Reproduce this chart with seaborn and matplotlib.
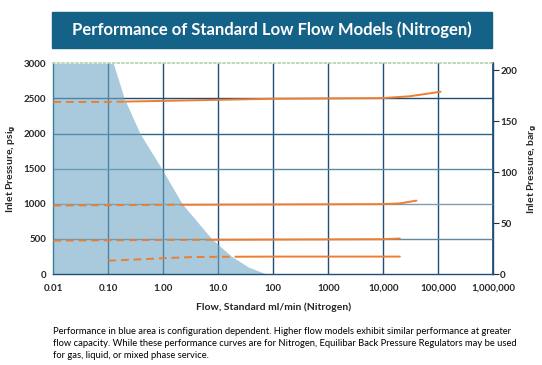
import numpy as np
import pandas as pd
import matplotlib
matplotlib.use("Agg")
import matplotlib.pyplot as plt
from matplotlib.patches import Rectangle
import seaborn as sns

# ---- data ----
# boundary of the blue (configuration dependent) area
edge_psi = [3000, 2500, 2000, 1500, 1000, 500, 250, 100, 0]
edge_flow = [0.123, 0.195, 0.377, 0.935, 2.2, 7.6, 17.5, 35, 75]

# performance curves (flow in ml/min, inlet pressure in psig)
curve_2500_flow = [0.01, 0.1, 1, 10, 100, 1000, 10000, 30000, 110000]
curve_2500_psi = [2450, 2450, 2465, 2480, 2495, 2500, 2505, 2530, 2595]
curve_1000_flow = [0.01, 1, 100, 10000, 20000, 40000]
curve_1000_psi = [975, 985, 990, 995, 1005, 1045]
curve_500_flow = [0.01, 1, 100, 10000, 20000]
curve_500_psi = [475, 485, 490, 495, 505]
curve_200_flow = [0.1, 0.3, 1, 3, 10, 100, 20000]
curve_200_psi = [190, 205, 225, 240, 245, 248, 248]

x_ticks = [0.01, 0.1, 1, 10, 100, 1000, 1e4, 1e5, 1e6]
x_labels = ["0.01", "0.10", "1.00", "10.0", "100", "1000",
            "10,000", "100,000", "1,000,000"]
y_ticks = [0, 500, 1000, 1500, 2000, 2500, 3000]
bar_ticks = [0, 50, 100, 150, 200]

PSI_PER_BAR = 14.5038

sns.set_theme(style="white")
plt.rcParams["font.family"] = ["Lato", "DejaVu Sans"]

fig = plt.figure(figsize=(5.42, 3.65), dpi=100)
ax = fig.add_axes([0.0984, 0.2493, 0.8117, 0.5773])
ax.set_xscale("log")
ax.set_xlim(0.01, 1e6)
ax.set_ylim(0, 3000)

# grid
for x in x_ticks[1:-1]:
    ax.axvline(x, color="#1f4e79", lw=1.0, zorder=1)
h_colors = {500: "#5f89a3", 1000: "#7f9db0", 1500: "#5e8aa6",
            2000: "#2f6388", 2500: "#1f4e79"}
for y, c in h_colors.items():
    ax.axhline(y, color=c, lw=1.0, zorder=1)

# blue area, semi-transparent over the grid
ax.fill_betweenx(edge_psi, 0.01, edge_flow, color="#6ea8c5", alpha=0.6,
                 lw=0, zorder=2)

# curves: dashed inside the blue area, solid outside
orange = "#ed7d31"
curves = [(curve_2500_flow, curve_2500_psi), (curve_1000_flow, curve_1000_psi),
          (curve_500_flow, curve_500_psi), (curve_200_flow, curve_200_psi)]
for fl, ps in curves:
    df = pd.DataFrame({"flow": fl, "psi": ps})
    start_psi = np.mean(ps[:2])
    cut = 10 ** np.interp(start_psi, edge_psi[::-1],
                          np.log10(edge_flow[::-1]))
    cut_psi = np.interp(np.log10(cut), np.log10(df.flow), df.psi)
    cut_pt = pd.DataFrame({"flow": [cut], "psi": [cut_psi]})
    dashed = pd.concat([df[df.flow < cut], cut_pt])
    solid = pd.concat([cut_pt, df[df.flow > cut]])
    sns.lineplot(data=dashed, x="flow", y="psi", ax=ax, color=orange,
                 lw=1.4, ls=(0, (4, 2.5)), zorder=3, sort=False)
    sns.lineplot(data=solid, x="flow", y="psi", ax=ax, color=orange,
                 lw=1.4, zorder=3, sort=False)

# axes styling
ax.spines["left"].set_color("#3b7ba0")
for side in ["bottom", "right"]:
    ax.spines[side].set_color("#1f4e79")
for side in ["left", "bottom", "right"]:
    ax.spines[side].set_linewidth(1.0)
ax.spines["top"].set_color("#b5d3b5")
ax.spines["top"].set_linestyle(":")

ax.set_xticks(x_ticks)
ax.set_xticklabels(x_labels, fontsize=7, fontweight="bold")
ax.xaxis.set_minor_locator(matplotlib.ticker.NullLocator())
ax.set_yticks(y_ticks)
ax.set_yticklabels([str(v) for v in y_ticks], fontsize=7, fontweight="bold")
ax.tick_params(axis="both", direction="out", length=3, width=0.8,
               color="#1f4e79", pad=2)
ax.tick_params(axis="x", length=3, pad=4)
ax.set_xlabel("Flow, Standard ml/min (Nitrogen)", fontsize=7.5,
              fontweight="bold", labelpad=7)
ax.set_ylabel("Inlet Pressure, psi$_\\mathbf{g}$", fontsize=7.5,
              fontweight="bold", labelpad=4)

sec = ax.secondary_yaxis("right", functions=(lambda p: p / PSI_PER_BAR,
                                             lambda b: b * PSI_PER_BAR))
sec.set_yticks(bar_ticks)
sec.set_yticklabels([str(v) for v in bar_ticks], fontsize=7, fontweight="bold")
sec.tick_params(direction="out", length=4, width=0.8, color="#1f2f3f", pad=1)
sec.spines["right"].set_color("#1f4e79")
sec.set_ylabel("Inlet Pressure, bar$_\\mathbf{g}$", fontsize=7.5,
               fontweight="bold", labelpad=6, rotation=90)

# title banner
fig.patches.append(Rectangle((52 / 542, 1 - 48 / 365), 440 / 542, 36 / 365,
                             transform=fig.transFigure, color="#156289",
                             zorder=0))
fig.text(272 / 542, 1 - 30 / 365,
         "Performance of Standard Low Flow Models (Nitrogen)",
         ha="center", va="center", color="white", fontsize=12,
         fontweight="bold")

note = ("Performance in blue area is configuration dependent. Higher flow models exhibit similar performance at greater\n"
        "flow capacity. While these performance curves are for Nitrogen, Equilibar Back Pressure Regulators may be used\n"
        "for gas, liquid, or mixed phase service.")
fig.text(53 / 542, 1 - 327 / 365, note, ha="left", va="top", fontsize=6.75,
         linespacing=1.4, color="black")

fig.savefig("out.png", dpi=100)
